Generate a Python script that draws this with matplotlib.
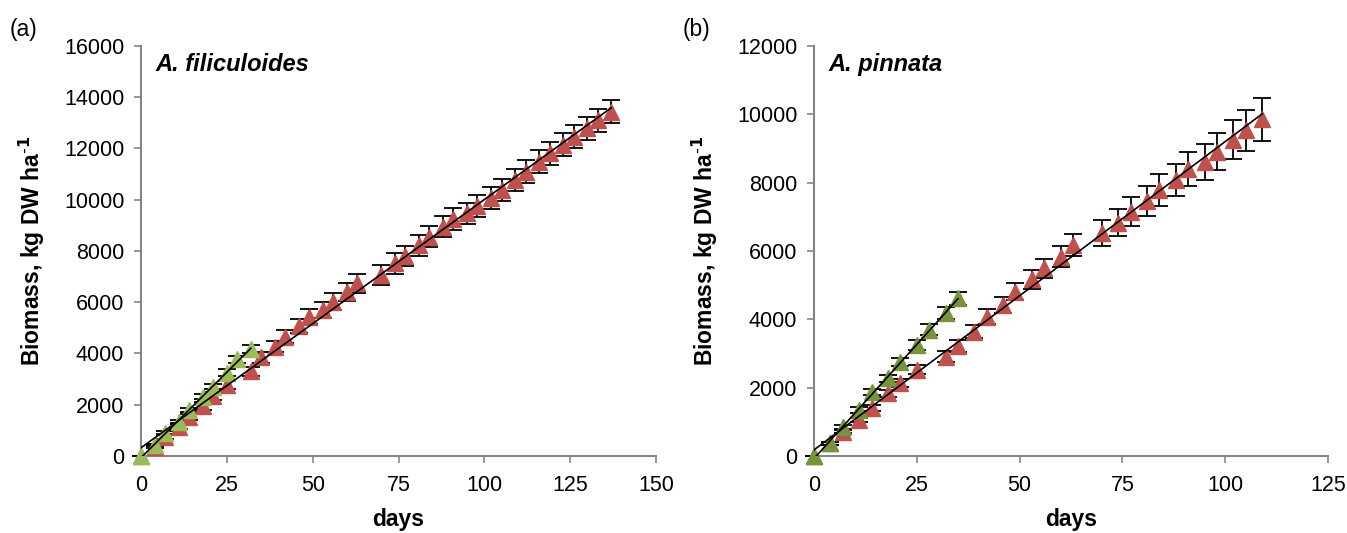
import numpy as np
import matplotlib
matplotlib.use('Agg')
import matplotlib.pyplot as plt

plt.rcParams['font.family'] = ['Liberation Sans', 'DejaVu Sans']

# Panel (a): A. filiculoides
a_red_days = [0, 4, 7, 11, 14, 18, 21, 25, 32, 35, 39, 42, 46, 49, 53, 56, 60, 63,
              70, 74, 77, 81, 84, 88, 91, 95, 98, 102, 105, 109, 112, 116, 119, 123,
              126, 130, 133, 137]
a_red_vals = [0, 370, 750, 1140, 1510, 1950, 2340, 2770, 3300, 3850, 4270, 4650, 5070,
              5430, 5700, 6020, 6410, 6740, 7060, 7520, 7800, 8230, 8560, 8950, 9240,
              9470, 9760, 10060, 10380, 10770, 11100, 11490, 11810, 12140, 12460,
              12790, 13110, 13440]
a_red_err = [0, 60, 80, 100, 120, 140, 150, 170, 190, 210, 230, 250, 270, 290, 310,
             330, 350, 370, 380, 400, 400, 410, 410, 420, 420, 420, 430, 430, 430,
             440, 440, 440, 440, 450, 450, 450, 450, 460]
a_grn_days = [0, 4, 7, 11, 14, 18, 21, 25, 28, 32]
a_grn_vals = [0, 430, 900, 1340, 1790, 2310, 2710, 3250, 3780, 4180]
a_grn_err = [0, 40, 60, 70, 90, 100, 110, 130, 140, 150]

# Panel (b): A. pinnata
b_red_days = [0, 4, 7, 11, 14, 18, 21, 25, 32, 35, 39, 42, 46, 49, 53, 56, 60, 63,
              70, 74, 77, 81, 84, 88, 91, 95, 98, 102, 105, 109]
b_red_vals = [0, 370, 710, 1050, 1400, 1830, 2130, 2520, 2910, 3220, 3640, 4080, 4420,
              4810, 5170, 5490, 5830, 6180, 6520, 6830, 7150, 7470, 7790, 8080, 8390,
              8610, 8910, 9250, 9540, 9850]
b_red_err = [0, 40, 50, 70, 80, 100, 110, 130, 150, 170, 190, 210, 230, 250, 270,
             290, 310, 330, 380, 400, 420, 440, 460, 480, 500, 520, 540, 570, 600, 640]
b_grn_days = [0, 4, 7, 11, 14, 18, 21, 25, 28, 32, 35]
b_grn_vals = [0, 370, 860, 1350, 1880, 2270, 2760, 3250, 3690, 4180, 4610]
b_grn_err = [0, 40, 60, 80, 90, 110, 120, 140, 160, 180, 200]

red = '#C0504D'
green_a = '#9BBB59'
green_b = '#77933C'
spine_c = '#868686'

fig = plt.figure(figsize=(13.47, 5.33), dpi=100)
ax1 = fig.add_axes([0.1047, 0.1445, 0.3823, 0.7692])
ax2 = fig.add_axes([0.6043, 0.1445, 0.3816, 0.7692])

panels = [
    (ax1, a_red_days, a_red_vals, a_red_err, a_grn_days, a_grn_vals, a_grn_err,
     green_a, 150, 16000, 'A. filiculoides', '(a)'),
    (ax2, b_red_days, b_red_vals, b_red_err, b_grn_days, b_grn_vals, b_grn_err,
     green_b, 125, 12000, 'A. pinnata', '(b)'),
]

for ax, rd, rv, re, gd, gv, ge, gc, xmax, ymax, name, tag in panels:
    for d, v, e, c in [(rd, rv, re, red), (gd, gv, ge, gc)]:
        ax.errorbar(d, v, yerr=e, fmt='none', ecolor='black', elinewidth=1.3,
                    capsize=6.5, capthick=1.3, zorder=2, clip_on=False)
        ax.plot(d, v, linestyle='none', marker='^', ms=11.5, color=c, mec=c,
                zorder=3, clip_on=False)
        # linear trendline
        k, b0 = np.polyfit(d, v, 1)
        xs = np.array([min(d), max(d)])
        ax.plot(xs, k * xs + b0, color='black', lw=1.2, zorder=4)

    ax.set_xlim(0, xmax)
    ax.set_ylim(0, ymax)
    ax.set_xticks(np.arange(0, xmax + 1, 25))
    ax.set_yticks(np.arange(0, ymax + 1, 2000))
    for s in ['top', 'right']:
        ax.spines[s].set_visible(False)
    for s in ['left', 'bottom']:
        ax.spines[s].set_color(spine_c)
        ax.spines[s].set_linewidth(1.5)
    ax.tick_params(direction='out', length=5, width=1.2, color=spine_c,
                   labelsize=15.5)
    ax.tick_params(axis='x', pad=9)
    ax.tick_params(axis='y', pad=7)
    ax.set_xlabel('days', fontsize=16.5, fontweight='bold', labelpad=8)
    ax.set_ylabel('Biomass, kg DW ha$^{\\mathbf{\\text{-}1}}$', fontsize=16.5,
                  fontweight='bold', labelpad=12)
    ax.text(0.028, 0.955, name, transform=ax.transAxes, fontsize=17,
            fontweight='bold', style='italic', va='center', ha='left')
    ax.text(-0.255, 1.04, tag, transform=ax.transAxes, fontsize=16.5,
            va='center', ha='left')

fig.savefig('out.png', dpi=100)
